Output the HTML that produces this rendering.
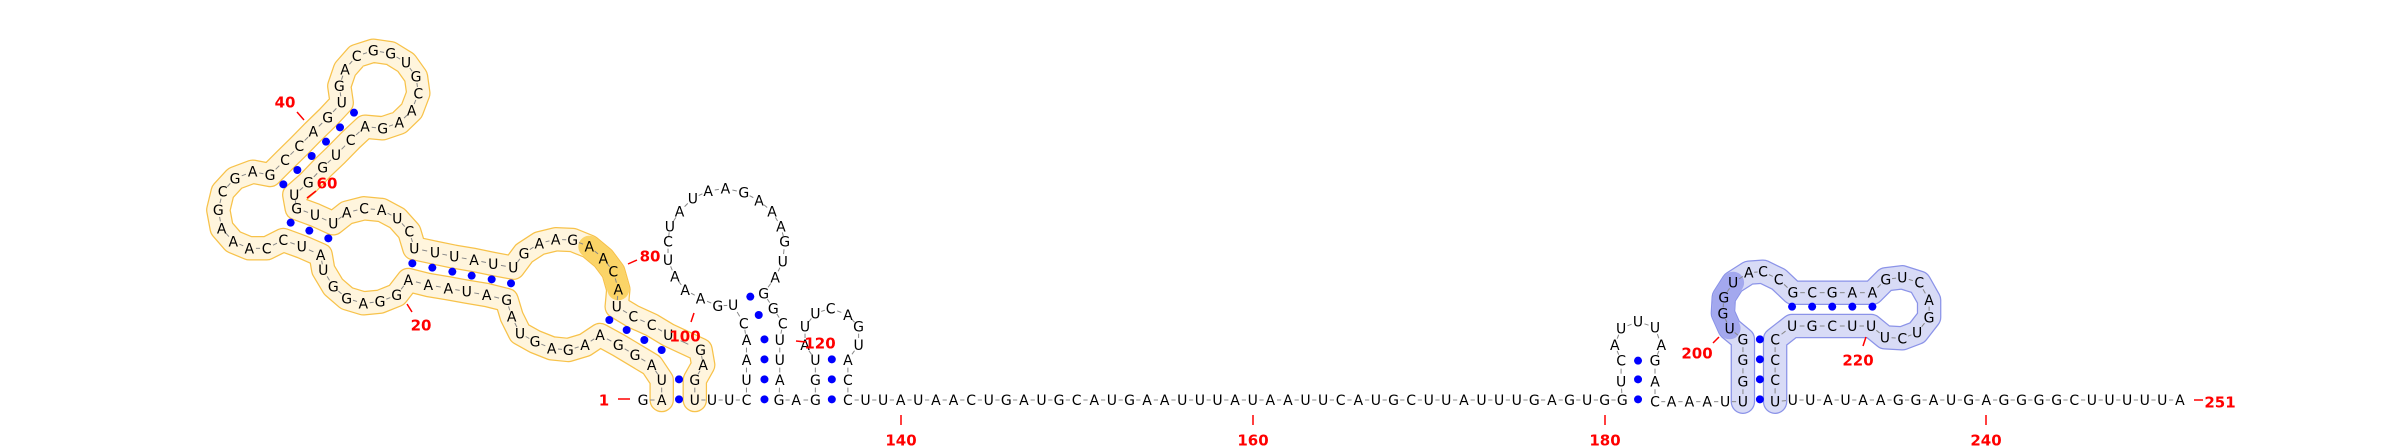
<!DOCTYPE html>
<html><head><meta charset="utf-8">
<style>
html,body{margin:0;padding:0;background:#fff;}
svg{display:block;}
.nt{font-family:"DejaVu Sans","Liberation Sans",sans-serif;font-size:14px;fill:#000;text-anchor:middle;}
.lbl{font-family:"DejaVu Sans","Liberation Sans",sans-serif;font-size:15px;font-weight:bold;fill:#ff0000;text-anchor:middle;}
</style></head>
<body>
<svg id="rna" width="2400" height="448" viewBox="0 0 2400 448" xmlns="http://www.w3.org/2000/svg">
<g id="bands"></g>
<g id="links"></g>
<g id="pairs"></g>
<g id="letters"></g>
<g id="labels"></g>
</svg>
<script>
var NS="http://www.w3.org/2000/svg";
var z1=[["A",1385,1080],["U",1385,1020],["A",1355,975],["G",1305,945],["G",1255,915],["A",1200,885],["A",1155,915],["G",1105,930],["A",1055,925],["G",1005,905],["U",960,880],["A",935,830],["G",920,780],["A",860,765],["U",800,755],["A",745,745],["A",685,735],["A",625,720],["G",590,765],["G",540,785],["A",490,790],["G",440,775],["G",400,740],["U",370,690],["A",362,645],["U",305,620],["C",250,600],["C",200,625],["A",148,625],["A",100,605],["A",65,565],["G",55,510],["C",68,455],["G",105,415],["A",158,395],["G",210,405],["C",255,360],["C",298,318],["A",340,275],["G",383,233],["U",425,188],["G",418,138],["A",435,88],["C",470,48],["G",520,32],["G",572,40],["U",618,68],["G",648,110],["C",655,160],["A",635,212],["A",598,248],["G",548,265],["A",495,260],["C",452,300],["U",408,345],["G",368,383],["G",325,428],["U",283,465],["G",290,505],["U",345,525],["U",400,550],["A",440,518],["C",492,505],["A",545,510],["U",592,535],["C",628,575],["U",643,625],["U",705,638],["U",763,650],["A",822,660],["U",880,672],["U",940,683],["G",972,640],["A",1018,610],["A",1067,598],["G",1118,600],["A",1168,620],["A",1210,655],["C",1240,695],["A",1255,748],["U",1250,800],["C",1300,830],["C",1355,855],["U",1405,885]];
var z2=[["G",315,510],["A",322,555],["G",300,600],["U",300,660],["U",345,660],["U",390,660],["C",435,660],["U",435,600],["A",435,540],["A",435,480],["C",428,430],["U",400,375],["G",360,378],["A",315,355],["A",275,330],["A",248,290],["U",230,240],["C",230,185],["U",235,140],["A",260,95],["U",295,55],["A",335,33],["A",380,25],["G",428,38],["A",468,62],["A",502,95],["A",525,140],["G",535,185],["U",530,245],["A",510,292],["G",480,340],["G",505,385],["C",530,430],["U",522,480],["U",522,540],["A",522,600],["G",520,660],["A",565,660],["G",615,660],["G",615,600],["U",615,540],["A",588,495],["U",588,440],["U",615,400],["C",655,385],["A",700,405],["G",728,440],["U",728,495],["A",700,540],["C",700,600],["C",700,660]];
var mid1="UUAUAACUGAUGCAUGAAUUUAUAAUUCAUGCUUAUUUGAGUGG";
var z3=[["U",92,425],["C",92,362],["A",78,315],["U",92,265],["U",130,245],["U",168,262],["A",182,315],["G",168,362],["A",168,425],["C",168,485],["A",205,485],["A",245,485],["A",285,485],["U",325,485],["U",365,485],["G",365,425],["G",365,360],["G",365,298],["U",335,265],["G",320,220],["G",322,172],["U",343,128],["A",378,98],["C",410,95],["C",445,118],["G",477,158],["C",520,158],["G",565,158],["A",610,158],["A",655,158],["G",685,118],["U",722,112],["C",760,128],["A",782,180],["G",782,232],["U",755,278],["C",722,295],["U",683,292],["U",652,258],["U",610,258],["C",565,258],["G",520,258],["U",475,258],["C",437,298],["C",437,360],["C",437,420],["U",437,485]];
var tail="UUAUAAGGAUGAGGGGCUUUUUA";
var dots1=[[462,218],[420,262],[378,305],[335,348],[292,390],[250,433],[272,548],[328,572],[385,595],[637,670],[697,683],[757,695],[815,707],[875,718],[933,730],[1228,840],[1280,870],[1333,900],[1385,930],[1437,1018],[1437,1078]];
var dots2=[[445,350],[467,405],[482,478],[482,538],[482,598],[482,658],[658,538],[658,598],[658,658]];
var dots3=[[130,362],[130,418],[130,478],[475,200],[520,200],[565,200],[610,200],[655,200],[403,298],[403,358],[403,418],[403,478]];
var labelText=["1","20","40","60","80","100","120","140","160","180","200","220","240","251"];

function f1(p){return [p[1]/3+200,p[2]/3+40];}
function f2(p){return [p[1]/2.613+580,p[2]/3+180];}
function f3(p){return [p[1]/2.24+1580,p[2]/3+240];}
var nts=[];
nts.push({c:"G",x:643,y:400});
z1.forEach(function(p){var q=f1(p);nts.push({c:p[0],x:q[0],y:q[1]});});
z2.forEach(function(p){var q=f2(p);nts.push({c:p[0],x:q[0],y:q[1]});});
var baseX=nts[nts.length-1].x;
for(var i=0;i<mid1.length;i++){nts.push({c:mid1[i],x:baseX+17.6*(i+1),y:400});}
z3.forEach(function(p){var q=f3(p);nts.push({c:p[0],x:q[0],y:q[1]});});
var tX=nts[nts.length-1].x;
for(var j=0;j<tail.length;j++){nts.push({c:tail[j],x:tX+17.6*(j+1),y:400});}

function mk(tag,attrs,parent){var e=document.createElementNS(NS,tag);for(var k in attrs)e.setAttribute(k,attrs[k]);parent.appendChild(e);return e;}
var bands=document.getElementById("bands");
function band(a,b,outer,inner,w){
  var pts=nts.slice(a,b+1).map(function(n){return n.x.toFixed(1)+","+n.y.toFixed(1);}).join(" ");
  if(outer){var o=mk("polyline",{points:pts,fill:"none",stroke:outer,"stroke-width":w+2.5,"stroke-linecap":"round","stroke-linejoin":"round"},bands);
  
  }
  var i2=mk("polyline",{points:pts,fill:"none",stroke:inner,"stroke-width":w,"stroke-linecap":"round","stroke-linejoin":"round"},bands);
  
  
}
var yEnd=1+z1.length+3;
band(1,yEnd,"#f7c24a","#fff5dd",22);
var L=z1.length;
band(L-7,L-4,null,"#fbd467",22);
var z3start=1+z1.length+z2.length+mid1.length;
band(z3start+14,z3start+46,"#8b93e8","#d8dbf6",22);
band(z3start+18,z3start+21,null,"#a3a8ee",22);

var links=document.getElementById("links");
for(var k=0;k<nts.length-1;k++){
  var a=nts[k],b=nts[k+1];
  var l=mk("line",{x1:a.x+(b.x-a.x)*0.38,y1:a.y+(b.y-a.y)*0.38,x2:a.x+(b.x-a.x)*0.62,y2:a.y+(b.y-a.y)*0.62,stroke:"#888","stroke-width":1},links);
  
  
}
var pairs=document.getElementById("pairs");
function addDots(arr,f){arr.forEach(function(d){var q=f([null,d[0],d[1]]);var c=mk("circle",{cx:q[0],cy:q[1],r:4,fill:"#0000ff"},pairs);
  
  });}
addDots(dots1,f1);addDots(dots2,f2);addDots(dots3,f3);

var letters=document.getElementById("letters");
nts.forEach(function(n){var t=mk("text",{x:n.x.toFixed(1),y:(n.y+5).toFixed(1),"class":"nt"},letters);t.textContent=n.c;
  
  });

var labels=document.getElementById("labels");
var lp=[[604,400],[421,325],[285,102],[327,183],[650,256],[685,336],[820,343],[901,440],[1253,440],[1605,440],[1697,353],[1858,360],[1986,440],[2220,402]];
var lt=[[618,399,630,399],[407,304,412,312],[297,112,304,120],[307,198,316,191],[628,264,637,260],[694,313,691,322],[796,341,806,342],[901,415,901,425],[1253,415,1253,425],[1605,415,1605,425],[1713,343,1719,337],[1866,337,1863,346],[1986,415,1986,425],[2194,400,2203,400]];
labelText.forEach(function(s,i){
  var ln=mk("line",{x1:lt[i][0],y1:lt[i][1],x2:lt[i][2],y2:lt[i][3],stroke:"#ff0000","stroke-width":1.5},labels);
  
  
  var t=mk("text",{x:lp[i][0],y:lp[i][1]+5.5,"class":"lbl"},labels);t.textContent=s;
  
  
});
</script>
</body></html>
